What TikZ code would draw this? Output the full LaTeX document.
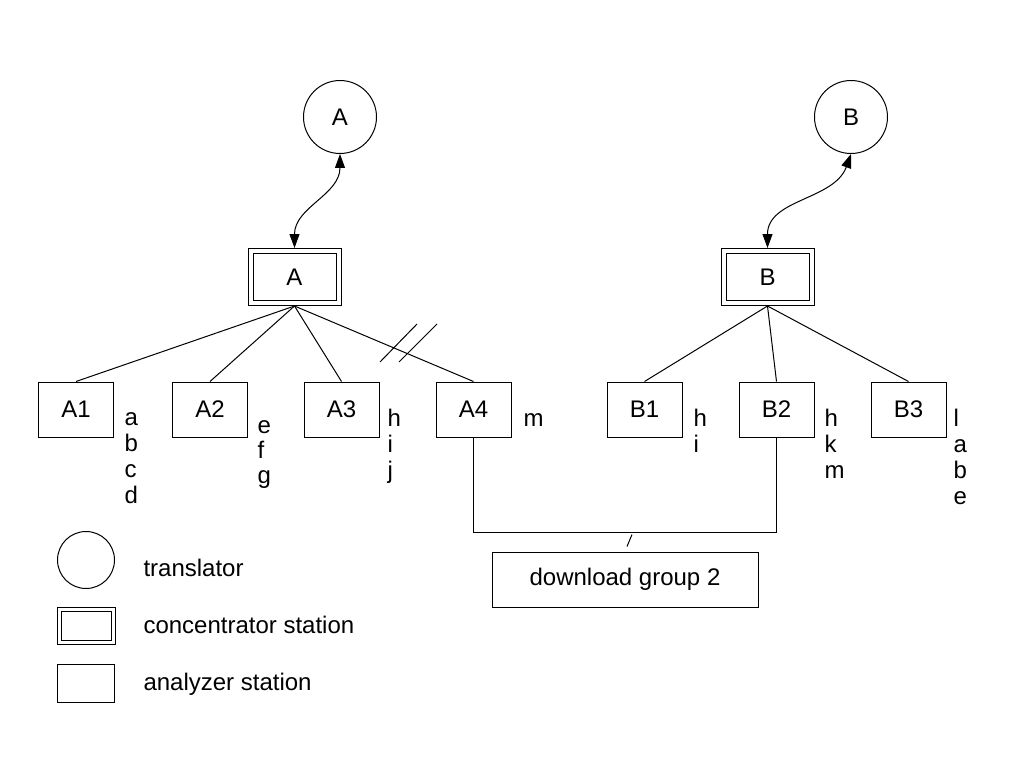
\documentclass[tikz,border=0pt]{standalone}
\usepackage{fontspec}
\setmainfont{Liberation Sans}
\usetikzlibrary{arrows.meta}

\begin{document}
\begin{tikzpicture}[x=1pt,y=-1pt,line width=1pt,
  every node/.style={font=\fontsize{24}{26}\selectfont},
  translator/.style={draw,circle,minimum size=73pt,inner sep=0pt},
  concentrator/.style={draw,double,double distance=4pt,minimum width=88pt,minimum height=52pt,inner sep=0pt,outer sep=3pt},
  analyzer/.style={draw,minimum width=75pt,minimum height=55pt,inner sep=0pt},
  link/.style={{Triangle[length=14pt,width=10pt]}-{Triangle[length=14pt,width=10pt]}},
  codes/.style={anchor=base west,inner sep=0pt}]
\useasboundingbox (0,0) rectangle (1023,781);

\node[translator] (tA) at (340,117) {A};
\node[translator] (tB) at (851,117) {B};
\node[concentrator] (cA) at (294.5,277) {A};
\node[concentrator] (cB) at (767.5,277) {B};

\foreach \n/\x in {A1/76,A2/210,A3/341.5,A4/473.5,B1/644.5,B2/776.5,B3/908.5}
  \node[analyzer] (\n) at (\x,409.5) {\n};

\foreach \c [count=\k] in {a,b,c,d}
  \node[codes] (A1-\k) at (124,{425+26*(\k-1)}) {\c};
\foreach \c [count=\k] in {e,f,g}
  \node[codes] (A2-\k) at (257,{433+25*(\k-1)}) {\c};
\foreach \c [count=\k] in {h,i,j}
  \node[codes] (A3-\k) at (387,{426+26*(\k-1)}) {\c};
\node[codes] (A4-1) at (523,426) {m};
\foreach \c [count=\k] in {h,i}
  \node[codes] (B1-\k) at (693,{426+26*(\k-1)}) {\c};
\foreach \c [count=\k] in {h,k,m}
  \node[codes] (B2-\k) at (824,{426+26*(\k-1)}) {\c};
\foreach \c [count=\k] in {l,a,b,e}
  \node[codes] (B3-\k) at (953,{426+26*(\k-1)}) {\c};

\draw[link] (tA.south) to[out=-90,in=90] (cA.north);
\draw[link] (tB.south) to[out=-110,in=90] (cB.north);

\foreach \n in {A1,A2,A3,A4}
  \draw (cA.south) -- (\n.north);
\foreach \n in {B1,B2,B3}
  \draw (cB.south) -- (\n.north);

\draw (380,362) -- (417,324) (399,362) -- (437,324);

\node[analyzer,minimum width=266pt] (dl) at (625,579.5) {download group 2};
\draw (A4.south) -- ++(0,95) -| (B2.south);
\draw ([shift={(2,-5)}]dl.north) -- ++(5,-12);

\node[translator,minimum size=57pt] (lt) at (86,560) {};
\node[concentrator,double distance=3pt,minimum width=54pt,minimum height=33pt,outer sep=0pt] (lc) at (86.5,626) {};
\node[analyzer,minimum width=57pt,minimum height=38pt] (la) at (85.5,683) {};
\node[codes] (ltt) at (143,576) {translator};
\node[codes] (lct) at (143,633) {concentrator station};
\node[codes] (lat) at (143,690) {analyzer station};
\end{tikzpicture}
\end{document}
